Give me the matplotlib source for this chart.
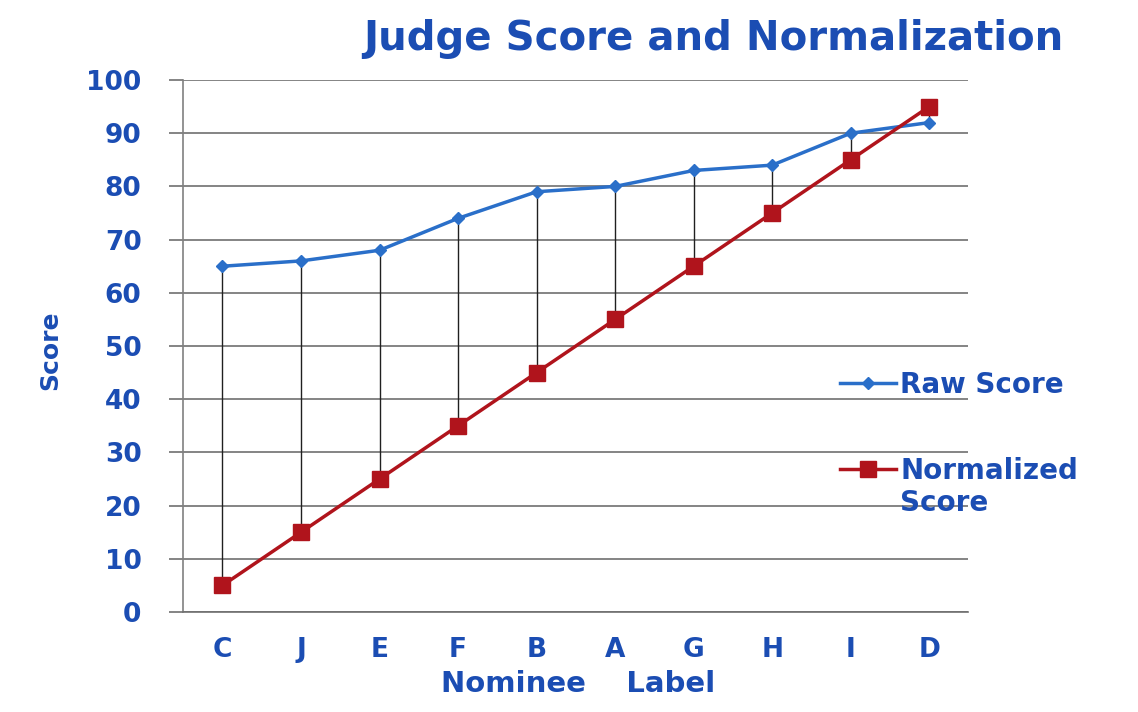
import matplotlib.pyplot as plt

nominees = ['C', 'J', 'E', 'F', 'B', 'A', 'G', 'H', 'I', 'D']
raw_score = [65, 66, 68, 74, 79, 80, 83, 84, 90, 92]
normalized_score = [5, 15, 25, 35, 45, 55, 65, 75, 85, 95]

text_blue = '#1b4db3'

fig = plt.figure(figsize=(11.38, 7.12), dpi=100)
ax = fig.add_axes([0.161, 0.1404, 0.690, 0.7472])

x = list(range(len(nominees)))

# hi-lo lines between the two series
ax.vlines(x, [min(a, b) for a, b in zip(raw_score, normalized_score)],
          [max(a, b) for a, b in zip(raw_score, normalized_score)],
          color='#202020', linewidth=1, zorder=2)

ax.plot(x, raw_score, color='#2a6fc9', linewidth=2.5, marker='D', markersize=6,
        label='Raw Score', zorder=3)
ax.plot(x, normalized_score, color='#b0141c', linewidth=2.5, marker='s', markersize=12,
        label='Normalized', zorder=4)

ax.set_xlim(-0.5, len(nominees) - 0.5)
ax.set_ylim(0, 100)
ax.set_yticks(range(0, 101, 10))
ax.set_xticks(x)
ax.set_xticklabels(nominees)
ax.yaxis.grid(True, color='#707070', linewidth=1.2)
ax.set_axisbelow(True)

for s in ['top', 'right']:
    ax.spines[s].set_visible(False)
ax.spines['left'].set_color('#808080')
ax.spines['bottom'].set_color('#707070')
ax.spines['left'].set_linewidth(1.2)
ax.spines['bottom'].set_linewidth(1.2)
ax.tick_params(axis='y', length=10, color='#707070', width=1.2, pad=20)
ax.tick_params(axis='x', length=0, pad=18)

for lab in ax.get_xticklabels() + ax.get_yticklabels():
    lab.set_fontsize(19)
    lab.set_fontweight('bold')
    lab.set_color(text_blue)

fig.text(0.627, 0.945, 'Judge Score and Normalization', ha='center', va='center',
         fontsize=29, fontweight='bold', color=text_blue)
fig.text(0.044, 0.508, 'Score', ha='center', va='center', rotation=90,
         fontsize=18, fontweight='bold', color=text_blue)
fig.text(0.508, 0.040, 'Nominee    Label', ha='center', va='center',
         fontsize=21, fontweight='bold', color=text_blue)

leg = ax.legend(loc='center left', bbox_to_anchor=(0.805, 0.346), frameon=False,
                fontsize=20, handlelength=2.0, labelspacing=2.1, handletextpad=0.15)
for t in leg.get_texts():
    t.set_color(text_blue)
    t.set_fontweight('bold')

# second line of the "Normalized Score" legend entry
fig.canvas.draw()
bb = leg.get_texts()[1].get_window_extent().transformed(fig.transFigure.inverted())
fig.text(bb.x0, bb.y0 - 0.005, 'Score', ha='left', va='top',
         fontsize=20, fontweight='bold', color=text_blue)

fig.savefig('out.png', dpi=100)
